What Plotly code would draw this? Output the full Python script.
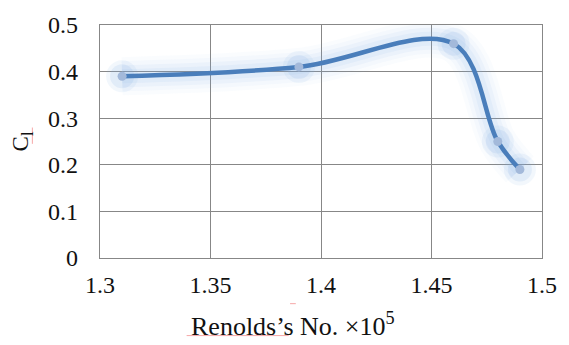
import plotly.graph_objects as go

# Lift coefficient versus Reynolds number
reynolds = [1.31, 1.39, 1.46, 1.48, 1.49]
cl = [0.39, 0.41, 0.46, 0.25, 0.19]

x_ticks = [1.3, 1.35, 1.4, 1.45, 1.5]
x_tick_text = ["1.3", "1.35", "1.4", "1.45", "1.5"]
y_ticks = [0, 0.1, 0.2, 0.3, 0.4, 0.5]
y_tick_text = ["0", "0.1", "0.2", "0.3", "0.4", "0.5"]

LINE = "#4A7EBB"
GLOW = "rgba(130,172,228,{a})"
SMOOTH = 1.0
SERIF = "Liberation Serif"

fig = go.Figure()

# soft glow under the curve
for w, a in [(38, 0.04), (30, 0.05), (22, 0.07), (14, 0.09)]:
    fig.add_trace(go.Scatter(
        x=reynolds, y=cl, mode="lines",
        line=dict(color=GLOW.format(a=a), width=w, shape="spline", smoothing=SMOOTH),
        hoverinfo="skip", showlegend=False,
    ))
# glow around the points
for s, a in [(32, 0.10), (24, 0.14)]:
    fig.add_trace(go.Scatter(
        x=reynolds, y=cl, mode="markers",
        marker=dict(color=GLOW.format(a=a), size=s, line=dict(width=0)),
        hoverinfo="skip", showlegend=False,
    ))

fig.add_trace(go.Scatter(
    x=reynolds, y=cl, mode="lines+markers",
    line=dict(color=LINE, width=4.5, shape="spline", smoothing=SMOOTH),
    marker=dict(color="#A3B9DA", size=9, line=dict(width=0)),
    showlegend=False,
))

# x-axis caption, set slightly left of centre
fig.add_annotation(
    text="Renolds’s No. ×10<sup>5</sup>", xref="paper", yref="paper",
    x=0.436, y=-0.285, xanchor="center", yanchor="middle", showarrow=False,
    font=dict(family=SERIF, size=26, color="#111111"),
)

# spell-check style marks in the original document
squiggle = "rgba(240,110,110,0.6)"
fig.add_shape(type="line", xref="paper", yref="paper", x0=0.196, x1=0.427, y0=-0.333, y1=-0.333,
              line=dict(color=squiggle, width=1))
fig.add_shape(type="line", xref="paper", yref="paper", x0=0.43, x1=0.443, y0=-0.196, y1=-0.196,
              line=dict(color=squiggle, width=1))
fig.add_shape(type="line", xref="paper", yref="paper", x0=-0.153, x1=-0.153, y0=0.49, y1=0.56,
              line=dict(color=squiggle, width=1))

tick_font = dict(family=SERIF, size=24, color="#111111")

fig.update_layout(
    width=569, height=345,
    margin=dict(l=100, r=19, t=18, b=87),
    paper_bgcolor="white", plot_bgcolor="white",
    font=dict(family=SERIF, color="#111111", size=24),
    xaxis=dict(
        range=[1.3, 1.5], tickvals=x_ticks, ticktext=x_tick_text,
        tickfont=tick_font,
        showgrid=True, gridcolor="#878787", gridwidth=1.3,
        showline=True, linecolor="#878787", linewidth=1.3, mirror=True,
        ticks="", zeroline=False, ticklabelstandoff=5,
    ),
    yaxis=dict(
        range=[0, 0.5], tickvals=y_ticks, ticktext=y_tick_text,
        tickfont=tick_font,
        showgrid=True, gridcolor="#878787", gridwidth=1.3,
        showline=True, linecolor="#878787", linewidth=1.3, mirror=True,
        ticks="", zeroline=False, ticklabelstandoff=16,
        title=dict(text="C<sub>l</sub>",
                   font=dict(family=SERIF, size=23, color="#111111"), standoff=12),
    ),
)

fig.write_html("out.html")
